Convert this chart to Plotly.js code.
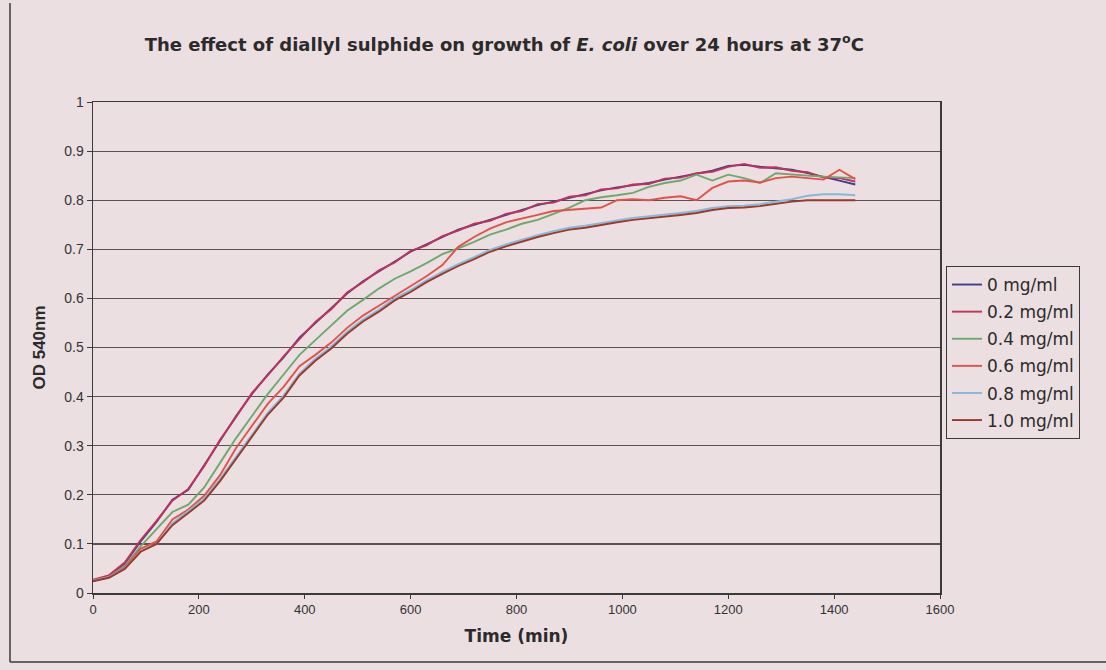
<!DOCTYPE html>
<html>
<head>
<meta charset="utf-8">
<script src="https://cdn.plot.ly/plotly-3.0.1.min.js"></script>
<style>
html,body{margin:0;padding:0;background:#ebdfe2;}
#chart{width:1106px;height:670px;}
</style>
</head>
<body>
<div id="chart"></div>
<script>
// Time (min)
const time = [0,30,60,90,120,150,180,210,240,270,300,330,360,390,420,450,480,510,540,570,600,630,660,690,720,750,780,810,840,870,900,930,960,990,1020,1050,1080,1110,1140,1170,1200,1230,1260,1290,1320,1350,1380,1410,1440];

const seriesNames = ["0 mg/ml","0.2 mg/ml","0.4 mg/ml","0.6 mg/ml","0.8 mg/ml","1.0 mg/ml"];

const od0 = [0.025,0.035,0.060,0.105,0.145,0.190,0.210,0.260,0.310,0.360,0.405,0.445,0.480,0.520,0.550,0.580,0.610,0.635,0.655,0.675,0.695,0.710,0.725,0.740,0.750,0.760,0.770,0.780,0.790,0.797,0.805,0.812,0.820,0.826,0.830,0.835,0.842,0.848,0.853,0.860,0.870,0.872,0.868,0.865,0.862,0.855,0.848,0.840,0.832];
const od02 = [0.027,0.036,0.062,0.108,0.147,0.188,0.212,0.258,0.312,0.358,0.407,0.443,0.482,0.518,0.552,0.578,0.612,0.633,0.657,0.673,0.697,0.708,0.727,0.738,0.752,0.758,0.772,0.778,0.792,0.795,0.807,0.810,0.822,0.824,0.832,0.833,0.844,0.846,0.855,0.858,0.868,0.874,0.866,0.867,0.860,0.857,0.846,0.845,0.838];
const od04 = [0.025,0.033,0.055,0.095,0.130,0.165,0.180,0.215,0.265,0.315,0.360,0.405,0.445,0.485,0.515,0.545,0.575,0.597,0.620,0.640,0.655,0.672,0.690,0.702,0.715,0.730,0.740,0.752,0.760,0.772,0.785,0.800,0.806,0.810,0.815,0.827,0.835,0.840,0.852,0.840,0.852,0.845,0.835,0.855,0.852,0.850,0.848,0.847,0.845];
const od06 = [0.025,0.033,0.052,0.090,0.105,0.150,0.170,0.198,0.240,0.295,0.340,0.385,0.420,0.462,0.485,0.510,0.540,0.565,0.585,0.605,0.625,0.645,0.668,0.705,0.725,0.742,0.755,0.762,0.770,0.778,0.780,0.782,0.785,0.800,0.802,0.800,0.805,0.808,0.800,0.825,0.838,0.840,0.836,0.845,0.848,0.845,0.842,0.862,0.843];
const od08 = [0.025,0.032,0.050,0.085,0.100,0.142,0.167,0.192,0.232,0.277,0.322,0.367,0.402,0.447,0.477,0.502,0.532,0.557,0.577,0.600,0.617,0.637,0.654,0.670,0.684,0.699,0.710,0.720,0.729,0.737,0.744,0.748,0.754,0.759,0.764,0.767,0.771,0.774,0.778,0.784,0.788,0.789,0.792,0.797,0.802,0.809,0.812,0.812,0.810];
const od10 = [0.024,0.031,0.049,0.084,0.100,0.138,0.163,0.188,0.228,0.273,0.318,0.363,0.398,0.443,0.473,0.498,0.528,0.553,0.573,0.596,0.613,0.633,0.650,0.666,0.680,0.695,0.706,0.716,0.725,0.733,0.740,0.744,0.750,0.755,0.760,0.763,0.767,0.770,0.774,0.780,0.784,0.785,0.788,0.793,0.797,0.800,0.800,0.801,0.800];

const seriesValues = [od0, od02, od04, od06, od08, od10];
const seriesColors = ["#3d3d8f","#c2325a","#6fa86c","#e2524a","#86b8dc","#9a3a2a"];

const xTicks = [0,200,400,600,800,1000,1200,1400,1600];
const yTicks = [0,0.1,0.2,0.3,0.4,0.5,0.6,0.7,0.8,0.9,1];

const traces = seriesNames.map((n, i) => ({
  x: time,
  y: seriesValues[i],
  name: n,
  type: 'scatter',
  mode: 'lines',
  legendgroup: 'g' + i,
  line: {color: seriesColors[i], width: 1.9}
}));

const L = 93, R = 940, T = 102, B = 593;
const W = 1106, H = 670;
const px2x = p => (p - L) / (R - L);
const px2y = p => (B - p) / (B - T);

const WIDE = '"DejaVu Sans", Verdana, sans-serif';
const ARIAL = 'Arial, "Liberation Sans", sans-serif';

const layout = {
  width: W, height: H,
  paper_bgcolor: '#ebdfe2',
  plot_bgcolor: '#ebdfe2',
  margin: {l: L, r: W - R, t: T, b: H - B, pad: 0},
  font: {family: ARIAL, color: '#2b2b2b', size: 13},
  title: {
    text: '<b>The effect of diallyl sulphide on growth of <i>E. coli</i> over 24 hours at 37<sup>o</sup>C</b>',
    font: {family: WIDE, size: 18, color: '#2b2b2b'},
    x: 0.456, xanchor: 'center', y: 0.934, yanchor: 'middle'
  },
  xaxis: {
    range: [0, 1600],
    tickvals: xTicks,
    ticks: 'outside', ticklen: 4, tickcolor: '#3a3a3a',
    showgrid: false, zeroline: false,
    showline: true, linecolor: '#3a3a3a', linewidth: 1.5, mirror: true,
    tickfont: {family: ARIAL, size: 13, color: '#333'},
    title: {text: '<b>Time (min)</b>', font: {family: WIDE, size: 17, color: '#2b2b2b'}, standoff: 14}
  },
  yaxis: {
    range: [0, 1],
    tickvals: yTicks,
    ticktext: ['0','0.1','0.2','0.3','0.4','0.5','0.6','0.7','0.8','0.9','1'],
    ticks: 'outside', ticklen: 5, tickcolor: '#3a3a3a',
    showgrid: true, gridcolor: '#5e4e55', gridwidth: 1.2,
    zeroline: false,
    showline: true, linecolor: '#3a3a3a', linewidth: 1.5, mirror: true,
    tickfont: {family: ARIAL, size: 14, color: '#333'},
    title: {text: '<b>OD 540nm</b>', font: {family: ARIAL, size: 17, color: '#2b2b2b'}, standoff: 14}
  },
  legend: {
    x: px2x(946), xanchor: 'left',
    y: px2y(266), yanchor: 'top',
    bgcolor: '#ebdfe2',
    bordercolor: '#3a3a3a', borderwidth: 1,
    font: {family: WIDE, size: 17, color: '#2b2b2b'},
    tracegroupgap: 2,
    itemwidth: 30
  },
  shapes: [
    {type: 'line', xref: 'paper', yref: 'paper', x0: px2x(10), x1: px2x(10), y0: px2y(3), y1: px2y(662), line: {color: '#3a3a3a', width: 1.5}},
    {type: 'line', xref: 'paper', yref: 'paper', x0: px2x(10), x1: px2x(1106), y0: px2y(662), y1: px2y(662), line: {color: '#3a3a3a', width: 1.5}}
  ],
  showlegend: true
};

Plotly.newPlot('chart', traces, layout, {displayModeBar: false, staticPlot: true});
</script>
</body>
</html>
